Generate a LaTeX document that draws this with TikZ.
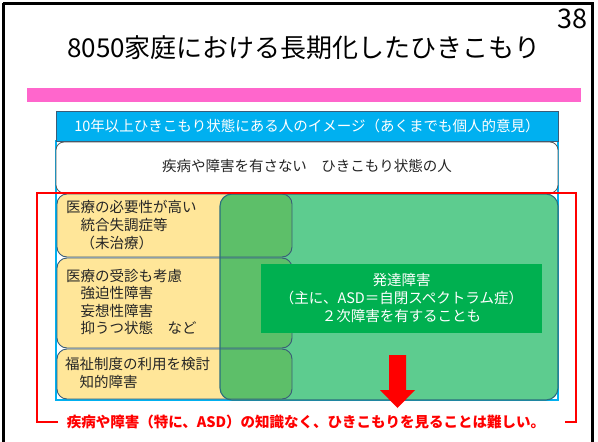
\documentclass[tikz,border=0pt]{standalone}
\usepackage{fontspec}
\setmainfont{Noto Sans CJK JP}
\definecolor{rosa}{HTML}{FF66CC}
\definecolor{ciano}{HTML}{00B0F0}
\definecolor{borda}{HTML}{3A5C78}
\definecolor{amarelo}{HTML}{FFE699}
\definecolor{verdeclaro}{HTML}{5DCC8F}
\definecolor{verdemix}{HTML}{5DBF69}
\definecolor{verdeforte}{HTML}{00B050}
\definecolor{bordaverde}{HTML}{2B6E7E}
\begin{document}
\begin{tikzpicture}[x=1pt, y=-1pt,
    caixa/.style={draw=borda, line width=0.9pt, rounded corners=10pt},
    texto/.style={inner sep=0pt, font=\fontsize{14.5}{17.6}\selectfont, text=black!85}]
\useasboundingbox (0,0) rectangle (598,442);

% slide frame
\draw[line width=3pt] (3,3) -- (592,3) -- (592,450);
\draw[line width=3pt] (3,3) -- (3,450);
\node[inner sep=0pt, anchor=base east, font=\fontsize{27}{30}\selectfont] (pagina) at (588,28) {38};

% title and pink bar
\node[inner sep=0pt, font=\fontsize{26}{30}\selectfont] (titulo) at (304,48) {8050家庭における長期化したひきこもり};
\fill[rosa] (27,88) rectangle (581,102);

% header
\draw[ciano, line width=1.2pt] (56,141) rectangle (558,400);
\draw[borda, fill=ciano, line width=0.8pt] (56,111) rectangle (558,141);
\node[texto, text=white] (cabecalho) at (307,126) {10年以上ひきこもり状態にある人のイメージ（あくまでも個人的意見）};

% people without illness
\draw[draw=black!65, fill=white, line width=0.8pt, rounded corners=8pt] (56,142) rectangle (558,193);
\node[texto] (semdoenca) at (307,166) {疾病や障害を有さない　ひきこもり状態の人};

% yellow boxes
\fill[amarelo, rounded corners=10pt] (57,194) rectangle (292,257);
\fill[amarelo, rounded corners=10pt] (57,258) rectangle (292,348);
\fill[amarelo, rounded corners=10pt] (57,349) rectangle (292,399);

% big green box and the overlap
\fill[verdeclaro, rounded corners=12pt] (220,194) rectangle (558,400);
\begin{scope}
  \clip[rounded corners=12pt] (220,194) rectangle (558,400);
  \fill[verdemix, rounded corners=10pt] (57,194) rectangle (292,257);
  \fill[verdemix, rounded corners=10pt] (57,258) rectangle (292,348);
  \fill[verdemix, rounded corners=10pt] (57,349) rectangle (292,399);
\end{scope}
\draw[caixa] (57,194) rectangle (292,257);
\draw[caixa] (57,258) rectangle (292,348);
\draw[caixa] (57,349) rectangle (292,399);
\draw[draw=bordaverde, line width=1.1pt, rounded corners=12pt] (220,194) rectangle (558,400);

% texts of the yellow boxes
\node[texto, anchor=west, align=left] (medico) at (66,225) {医療の必要性が高い\\　統合失調症等\\　（未治療）};
\node[texto, anchor=west, align=left] (consulta) at (66,302) {医療の受診も考慮\\　強迫性障害\\　妄想性障害\\　抑うつ状態　など};
\node[texto, anchor=west, align=left] (bemestar) at (65,373) {福祉制度の利用を検討\\　知的障害};

% developmental disorder
\fill[verdeforte] (261,264) rectangle (542,333);
\node[texto, text=white, align=center] (asd) at (401.5,298) {発達障害\\（主に、ASD＝自閉スペクトラム症）\\２次障害を有することも};

% red arrow
\fill[red] (389,355) -- (406,355) -- (406,390) -- (415,390) -- (397.5,408) -- (380,390) -- (389,390) -- cycle;

% red bracket and conclusion
\draw[red, line width=2.2pt] (58,422) -- (37,422) -- (37,193) -- (576,193) -- (576,422) -- (565,422);
\node[texto, text=red, font=\fontsize{14.5}{17.6}\selectfont\bfseries] (conclusao) at (306,422) {疾病や障害（特に、ASD）の知識なく、ひきこもりを見ることは難しい。};

\end{tikzpicture}
\end{document}
